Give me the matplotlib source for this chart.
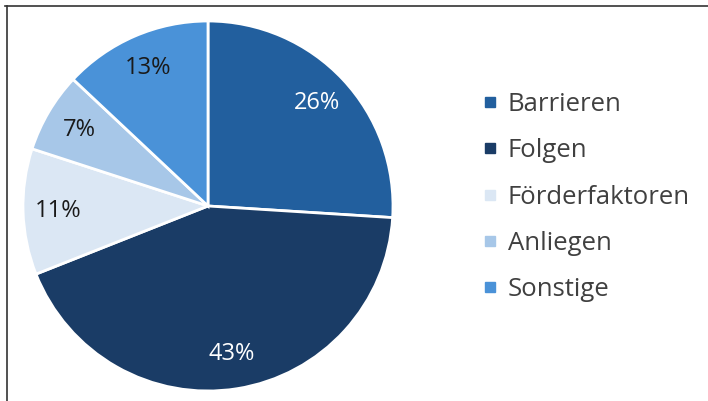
import matplotlib
matplotlib.use("Agg")
import matplotlib.pyplot as plt
from matplotlib.lines import Line2D

labels = ["Barrieren", "Folgen", "Förderfaktoren", "Anliegen", "Sonstige"]
shares = [26, 43, 11, 7, 13]
colors = ["#225f9e", "#1a3c66", "#dbe7f4", "#a7c7e8", "#4a92d8"]
pct_colors = ["white", "white", "#1a1a1a", "#1a1a1a", "#1a1a1a"]

plt.rcParams["font.family"] = ["Open Sans", "DejaVu Sans"]

fig = plt.figure(figsize=(7.08, 4.01), dpi=100)
W, H = 708, 401

# pie area in pixels: centre (208, 206), radius 185
cx, cy, r = 208, 206, 185
ax = fig.add_axes([(cx - r) / W, (H - cy - r) / H, 2 * r / W, 2 * r / H])

wedges, texts, autotexts = ax.pie(
    shares, colors=colors, startangle=90, counterclock=False,
    autopct="%d%%", pctdistance=0.81,
    wedgeprops=dict(edgecolor="white", linewidth=2),
    textprops=dict(fontsize=17),
)
for t, c in zip(autotexts, pct_colors):
    t.set_color(c)
ax.set_xlim(-1, 1)
ax.set_ylim(-1, 1)
ax.set_aspect("equal")

handles = [Line2D([], [], marker="s", linestyle="", markersize=7, color=c) for c in colors]
fig.legend(handles, labels, loc="center left", bbox_to_anchor=(469 / W, (H - 197) / H),
           frameon=False, fontsize=18.5, labelcolor="#404040", labelspacing=0.82,
           handlelength=0.6, handletextpad=0.4, borderpad=0)

# thin frame lines along top and left edge
fig.add_artist(Line2D([5 / W, 1], [1 - 6 / H, 1 - 6 / H], color="#333333", linewidth=1.2))
fig.add_artist(Line2D([7 / W, 7 / W], [0, 1 - 6 / H], color="#333333", linewidth=1.2))

fig.savefig("out.png", dpi=100, facecolor="white")
